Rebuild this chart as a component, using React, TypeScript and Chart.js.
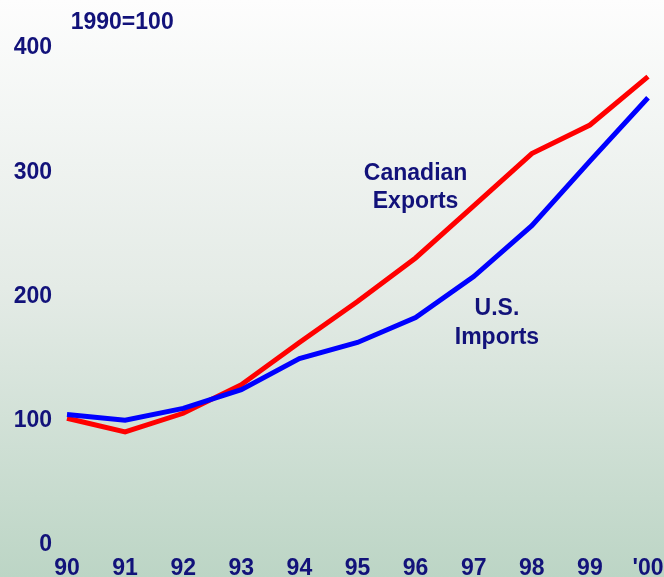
import React, { useEffect, useRef } from "react";
import { Chart, registerables } from "chart.js";

Chart.register(...registerables);

const years = ["90", "91", "92", "93", "94", "95", "96", "97", "98", "99", "'00"];
const canadianExports = [102, 91, 106, 129, 163, 196, 231, 273, 315, 338, 377];
const usImports = [105, 100.5, 110, 125, 150, 163, 183, 216, 257, 309, 360];
const yTicks = [0, 100, 200, 300, 400];

const unitLabel = "1990=100";
const exportsLabel = ["Canadian", "Exports"];
const importsLabel = ["U.S.", "Imports"];

const NAVY = "#12127a";
const FONT = "bold 23px 'Liberation Sans', Arial, sans-serif";

const textPlugin = {
  id: "textLabels",
  afterDatasetsDraw(chart: any) {
    const { ctx, scales } = chart;
    const x = scales.x;
    const y = scales.y;
    ctx.save();
    ctx.fillStyle = NAVY;
    ctx.font = FONT;
    ctx.textAlign = "center";
    ctx.textBaseline = "middle";
    ctx.fillText(unitLabel, x.getPixelForValue(0.95), y.getPixelForValue(420));
    ctx.fillText(exportsLabel[0], x.getPixelForValue(6.0), y.getPixelForValue(299));
    ctx.fillText(exportsLabel[1], x.getPixelForValue(6.0), y.getPixelForValue(276));
    ctx.fillText(importsLabel[0], x.getPixelForValue(7.4), y.getPixelForValue(190));
    ctx.fillText(importsLabel[1], x.getPixelForValue(7.4), y.getPixelForValue(167));
    ctx.restore();
  },
};

export default function App() {
  const ref = useRef<HTMLCanvasElement>(null);
  useEffect(() => {
    if (!ref.current) return;
    const chart = new Chart(ref.current, {
      type: "line",
      data: {
        labels: years,
        datasets: [
          {
            label: "U.S. Imports",
            data: usImports,
            borderColor: "#0000ff",
            borderWidth: 5,
            pointRadius: 0,
            tension: 0,
            fill: false,
          },
          {
            label: "Canadian Exports",
            data: canadianExports,
            borderColor: "#ff0000",
            borderWidth: 5,
            pointRadius: 0,
            tension: 0,
            fill: false,
          },
        ],
      },
      options: {
        responsive: false,
        animation: false,
        layout: { padding: { top: 48, right: 16, left: 0, bottom: 0 } },
        plugins: {
          legend: { display: false },
          tooltip: { enabled: false },
          title: { display: false },
        },
        scales: {
          x: {
            offset: false,
            grid: { display: false, drawTicks: false },
            border: { display: false },
            ticks: {
              color: NAVY,
              font: { family: "'Liberation Sans', Arial, sans-serif", size: 23, weight: "bold" },
              padding: 10,
              maxRotation: 0,
              autoSkip: false,
            },
            afterFit(scale: any) {
              scale.height = 32;
              scale.paddingRight = 0;
              scale.paddingLeft = 0;
            },
          },
          y: {
            min: 0,
            max: 400,
            afterBuildTicks(scale: any) {
              scale.ticks = yTicks.map((v) => ({ value: v }));
            },
            grid: { display: false, drawTicks: false },
            border: { display: false },
            ticks: {
              color: NAVY,
              font: { family: "'Liberation Sans', Arial, sans-serif", size: 23, weight: "bold" },
              padding: 15,
            },
            afterFit(scale: any) {
              scale.width = 67;
              scale.paddingTop = 0;
              scale.paddingBottom = 0;
            },
          },
        },
      },
      plugins: [textPlugin],
    });
    return () => chart.destroy();
  }, []);

  return (
    <div
      style={{
        position: "fixed",
        left: 0,
        top: 0,
        width: 664,
        height: 577,
        background: "linear-gradient(to bottom, #fdfdfd 0%, #e4ebe6 50%, #bcd5c5 100%)",
      }}
    >
      <canvas ref={ref} width={664} height={577} style={{ display: "block", width: 664, height: 577 }} />
    </div>
  );
}
